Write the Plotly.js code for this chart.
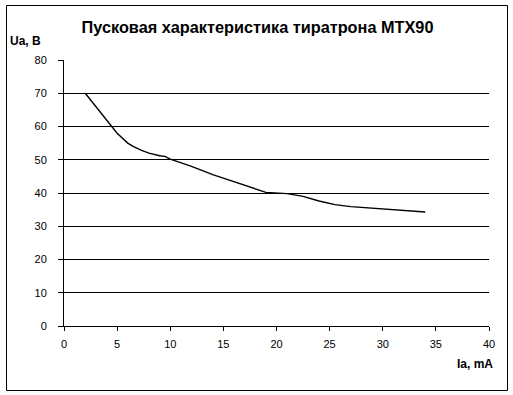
<!DOCTYPE html>
<html>
<head>
<meta charset="utf-8">
<script src="https://cdn.plot.ly/plotly-3.0.1.min.js"></script>
<style>
  html, body { margin: 0; padding: 0; background: #fff; }
  #chart { width: 513px; height: 395px; }
</style>
</head>
<body>
<div id="chart"></div>
<script>
// Data
var currentMA = [2, 3, 4, 5, 6, 6.5, 7.3, 8, 9, 9.5, 10, 12, 14, 16, 18, 19, 21, 22.5, 24, 25.5, 27, 30, 32, 34];
var voltageV  = [70, 66, 62, 58, 55, 54, 52.8, 52, 51.2, 51, 50.2, 48, 45.5, 43.3, 41.2, 40.2, 39.8, 39, 37.6, 36.5, 35.9, 35.2, 34.7, 34.3];

var titleText = 'Пусковая характеристика тиратрона МТХ90';
var yTitleText = 'Ua, В';
var xTitleText = 'Ia, mA';

var fontFam = 'Liberation Sans, Arial, sans-serif';

var trace = {
  x: currentMA,
  y: voltageV,
  type: 'scatter',
  mode: 'lines',
  line: { color: '#000000', width: 1.4 },
  hoverinfo: 'none'
};

var layout = {
  width: 513,
  height: 395,
  margin: { l: 64, r: 24, t: 60, b: 69, pad: 0 },
  paper_bgcolor: '#ffffff',
  plot_bgcolor: '#ffffff',
  showlegend: false,
  font: { family: fontFam, size: 11, color: '#000000' },
  title: {
    text: '<b>' + titleText + '</b>',
    font: { family: fontFam, size: 16.3, color: '#000000' },
    x: 257.5 / 513, xref: 'container', xanchor: 'center',
    y: 1 - 27 / 395, yref: 'container', yanchor: 'middle'
  },
  xaxis: {
    range: [0, 40],
    dtick: 5,
    tick0: 0,
    showgrid: false,
    zeroline: false,
    showline: true,
    linecolor: '#000000',
    linewidth: 1,
    ticks: 'outside',
    ticklen: 4,
    tickcolor: '#000000',
    ticklabelstandoff: 4,
    tickfont: { family: fontFam, size: 11, color: '#000000' },
    fixedrange: true
  },
  yaxis: {
    range: [0, 80],
    dtick: 10,
    tick0: 0,
    showgrid: true,
    gridcolor: '#000000',
    gridwidth: 1,
    zeroline: false,
    showline: true,
    linecolor: '#000000',
    linewidth: 1,
    ticks: 'outside',
    ticklen: 5,
    tickcolor: '#000000',
    ticklabelstandoff: 9,
    tickfont: { family: fontFam, size: 11, color: '#000000' },
    fixedrange: true
  },
  annotations: [
    {
      text: '<b>' + yTitleText + '</b>',
      xref: 'paper', yref: 'paper',
      x: (8 - 64) / 425, y: (326 - 41) / 266,
      xanchor: 'left', yanchor: 'middle',
      showarrow: false,
      font: { family: fontFam, size: 12, color: '#000000' }
    },
    {
      text: '<b>' + xTitleText + '</b>',
      xref: 'paper', yref: 'paper',
      x: (495 - 64) / 425, y: (326 - 364) / 266,
      xanchor: 'right', yanchor: 'middle',
      showarrow: false,
      font: { family: fontFam, size: 12, color: '#000000' }
    }
  ],
  shapes: [
    {
      type: 'rect', xref: 'paper', yref: 'paper',
      x0: (6.5 - 64) / 425, x1: (507.5 - 64) / 425,
      y0: (326 - 390.5) / 266, y1: (326 - 5.5) / 266,
      line: { color: '#000000', width: 1 },
      fillcolor: 'rgba(0,0,0,0)',
      layer: 'above'
    }
  ]
};

Plotly.newPlot('chart', [trace], layout, { displayModeBar: false, staticPlot: true });
</script>
</body>
</html>
